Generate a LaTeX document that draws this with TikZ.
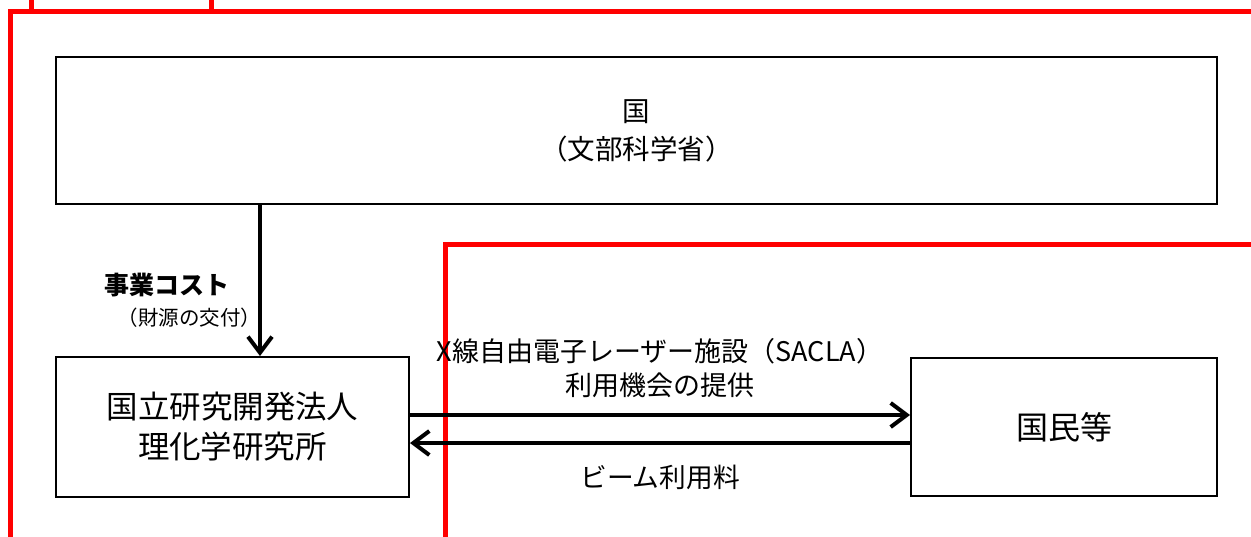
\documentclass[tikz,border=0pt]{standalone}
\usepackage{fontspec}
\setmainfont{Noto Sans CJK JP}
\usetikzlibrary{arrows.meta}
\tikzset{
  box/.style={draw=black, line width=2pt, fill=white, align=center, inner sep=0pt},
  arr/.style={line width=4pt, -{Straight Barb[length=16pt, width=24pt, line width=4pt]}},
  redline/.style={draw=red, line width=5pt},
}
\begin{document}
\begin{tikzpicture}[x=1pt,y=1pt]
\useasboundingbox (0,0) rectangle (1251,-536);
% red outlines
\draw[redline] (10.5,-540) -- (10.5,-11) -- (1255,-11);
\draw[redline] (31.5,5) -- (31.5,-11) -- (211.5,-11) -- (211.5,5);
\draw[redline] (445.5,-540) -- (445.5,-244) -- (1255,-244);
% boxes
\node[box, minimum width=1161pt, minimum height=147pt, font=\fontsize{27.5}{38}\selectfont] (kuni) at (636.5,-130.5) {国\\（文部科学省）};
\node[box, minimum width=353pt, minimum height=140pt, font=\fontsize{31.5}{40}\selectfont] (riken) at (232.5,-427) {国立研究開発法人\\理化学研究所};
\node[box, minimum width=306pt, minimum height=138pt, font=\fontsize{32}{40}\selectfont] (kokumin) at (1064,-427) {国民等};
% connectors
\coordinate (ax) at (260,0);
\coordinate (ay1) at (0,-415);
\coordinate (ay2) at (0,-443);
\draw[arr] (kuni.south -| ax) -- (riken.north -| ax);
\draw[arr] (riken.east |- ay1) -- (kokumin.west |- ay1);
\draw[arr] (kokumin.west |- ay2) -- (riken.east |- ay2);
% labels
\node[font=\fontsize{25}{28}\selectfont\bfseries, anchor=center] (cost) at (166.5,-285) {事業コスト};
\node[font=\fontsize{20.5}{22}\selectfont, anchor=center] (zaigen) at (189.5,-318) {（財源の交付）};
\node[font=\fontsize{27}{34}\selectfont, align=center] (sacla) at (660,-368) {X線自由電子レーザー施設（SACLA）\\利用機会の提供};
\node[font=\fontsize{26.7}{30}\selectfont] (beam) at (660,-477) {ビーム利用料};
\end{tikzpicture}
\end{document}
